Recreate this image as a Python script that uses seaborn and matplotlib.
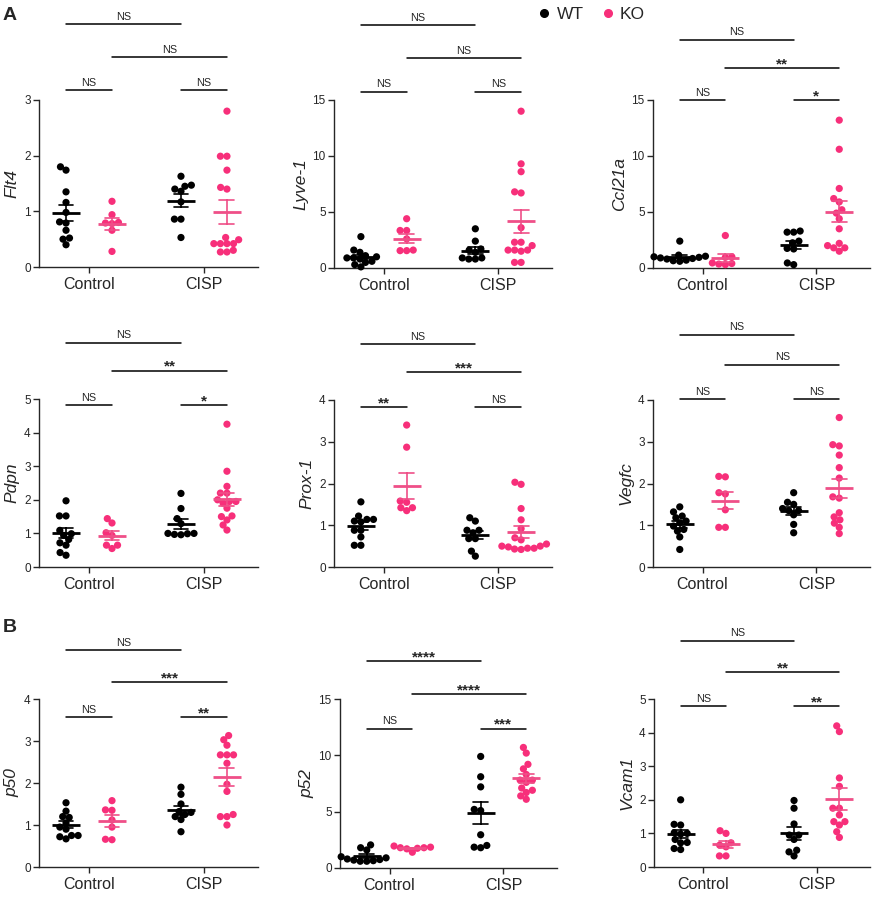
import numpy as np
import pandas as pd
import matplotlib
matplotlib.use('Agg')
import matplotlib.pyplot as plt
from matplotlib.lines import Line2D
import seaborn as sns
import warnings

warnings.filterwarnings('ignore')

# ---------------- data ----------------
groups = ['Control', 'CISP']
genotypes = ['WT', 'KO']

flt4_ctrl_wt = [1.74, 1.80, 1.35, 1.16, 0.98, 0.81, 0.79, 0.66, 0.52, 0.50, 0.40]
flt4_ctrl_ko = [1.18, 0.94, 0.80, 0.79, 0.78, 0.66, 0.28]
flt4_cisp_wt = [1.63, 1.47, 1.45, 1.40, 1.36, 1.17, 0.86, 0.86, 0.53]
flt4_cisp_ko = [2.80, 1.99, 1.99, 1.74, 1.43, 1.40, 0.53, 0.49, 0.42, 0.42, 0.42, 0.42, 0.27, 0.30, 0.27]

lyve_ctrl_wt = [2.8, 1.6, 1.4, 1.1, 1.0, 0.9, 0.9, 0.8, 0.6, 0.5, 0.3, 0.1]
lyve_ctrl_ko = [4.4, 3.35, 3.35, 2.6, 1.6, 1.55, 1.55]
lyve_cisp_wt = [3.5, 2.4, 1.7, 1.6, 1.4, 0.9, 0.8, 0.8, 0.9]
lyve_cisp_ko = [14.0, 9.3, 8.6, 6.8, 6.7, 3.6, 2.3, 2.3, 2.0, 1.6, 1.6, 1.6, 1.5, 0.5, 0.5]

ccl_ctrl_wt = [2.4, 1.15, 1.0, 1.05, 0.9, 0.85, 0.95, 0.8, 0.7, 0.6, 0.65]
ccl_ctrl_ko = [2.9, 1.0, 0.95, 0.4, 0.45, 0.35, 0.3]
ccl_cisp_wt = [3.3, 3.2, 3.2, 2.4, 2.25, 1.75, 1.7, 0.45, 0.3]
ccl_cisp_ko = [13.2, 10.6, 7.1, 6.2, 5.9, 5.2, 4.9, 4.4, 3.5, 2.2, 2.0, 1.5, 1.8, 1.8]

pdpn_ctrl_wt = [1.97, 1.52, 1.52, 1.09, 0.99, 0.94, 0.82, 0.72, 0.65, 0.43, 0.35]
pdpn_ctrl_ko = [1.44, 1.31, 1.02, 0.94, 0.65, 0.65, 0.55]
pdpn_cisp_wt = [2.19, 1.74, 1.44, 1.29, 1.0, 1.0, 0.99, 0.97, 0.96]
pdpn_cisp_ko = [4.25, 2.85, 2.4, 2.2, 2.2, 2.0, 1.95, 1.95, 1.9, 1.75, 1.52, 1.5, 1.4, 1.25, 1.1]

prox_ctrl_wt = [1.56, 1.22, 1.14, 1.14, 1.08, 1.1, 0.88, 0.88, 0.72, 0.52, 0.52]
prox_ctrl_ko = [3.4, 2.87, 1.55, 1.58, 1.35, 1.42, 1.42]
prox_cisp_wt = [1.18, 1.1, 0.88, 0.82, 0.88, 0.68, 0.68, 0.38, 0.26]
prox_cisp_ko = [2.03, 1.98, 1.4, 1.13, 0.92, 0.7, 0.65, 0.55, 0.5, 0.5, 0.48, 0.45, 0.45, 0.43, 0.42]

vegfc_ctrl_wt = [1.44, 1.32, 1.22, 1.18, 1.1, 1.06, 0.98, 0.9, 0.86, 0.72, 0.42]
vegfc_ctrl_ko = [2.17, 2.16, 1.78, 1.75, 1.37, 0.95, 0.95]
vegfc_cisp_wt = [1.78, 1.55, 1.5, 1.4, 1.35, 1.35, 1.25, 1.02, 0.82]
vegfc_cisp_ko = [3.58, 2.93, 2.9, 2.68, 2.38, 2.13, 1.65, 1.68, 1.3, 1.2, 1.13, 1.05, 0.95, 0.8]

p50_ctrl_wt = [1.53, 1.33, 1.2, 1.18, 1.05, 0.95, 0.9, 0.75, 0.75, 0.72, 0.67]
p50_ctrl_ko = [1.58, 1.36, 1.35, 1.12, 0.95, 0.66, 0.65]
p50_cisp_wt = [1.9, 1.73, 1.5, 1.32, 1.3, 1.25, 1.2, 1.13, 0.84]
p50_cisp_ko = [3.13, 3.03, 2.9, 2.67, 2.67, 2.67, 2.47, 1.97, 1.8, 1.25, 1.2, 1.2, 1.0]

p52_ctrl_wt = [2.05, 1.8, 1.6, 1.0, 0.9, 0.8, 0.7, 0.75, 0.6, 0.65, 0.6]
p52_ctrl_ko = [1.95, 1.85, 1.8, 1.8, 1.75, 1.7, 1.4]
p52_cisp_wt = [9.9, 8.1, 7.2, 5.2, 5.1, 2.95, 2.0, 1.85, 1.8]
p52_cisp_ko = [10.7, 10.2, 9.2, 8.8, 8.3, 7.8, 7.8, 7.6, 7.1, 6.9, 6.7, 6.4, 6.1]

vcam_ctrl_wt = [2.0, 1.27, 1.25, 1.02, 1.0, 0.98, 0.82, 0.73, 0.72, 0.55, 0.52]
vcam_ctrl_ko = [1.08, 1.0, 0.72, 0.65, 0.6, 0.33, 0.33]
vcam_cisp_wt = [1.98, 1.75, 1.28, 0.95, 0.95, 0.82, 0.5, 0.45, 0.33]
vcam_cisp_ko = [4.2, 4.03, 2.65, 2.4, 1.75, 1.75, 1.55, 1.35, 1.35, 1.25, 1.05, 0.88]

# significance labels: [Control WT-KO, CISP WT-KO, KO Control-CISP, WT Control-CISP]
flt4_sig = ['NS', 'NS', 'NS', 'NS']
lyve_sig = ['NS', 'NS', 'NS', 'NS']
ccl_sig = ['NS', '*', '**', 'NS']
pdpn_sig = ['NS', '*', '**', 'NS']
prox_sig = ['**', 'NS', '***', 'NS']
vegfc_sig = ['NS', 'NS', 'NS', 'NS']
p50_sig = ['NS', '**', '***', 'NS']
p52_sig = ['NS', '***', '****', '****']
vcam_sig = ['NS', '**', '**', 'NS']

point_colors = {'WT': '#000000', 'KO': '#F72F7A'}
mean_colors = {'WT': '#000000', 'KO': '#EF4F88'}


def make_df(ctrl_wt, ctrl_ko, cisp_wt, cisp_ko):
    rows = []
    for grp, gt, vals in [('Control', 'WT', ctrl_wt), ('Control', 'KO', ctrl_ko),
                          ('CISP', 'WT', cisp_wt), ('CISP', 'KO', cisp_ko)]:
        rows += [(grp, gt, v) for v in vals]
    return pd.DataFrame(rows, columns=['group', 'genotype', 'value'])


# (name, df, ymax, ystep, rect in px [left, top, width, height], bracket levels, labels)
panels = [
    ('Flt4', make_df(flt4_ctrl_wt, flt4_ctrl_ko, flt4_cisp_wt, flt4_cisp_ko), 3, 1,
     (39, 100, 219, 167), (1.06, 1.257, 1.455), flt4_sig),
    ('Lyve-1', make_df(lyve_ctrl_wt, lyve_ctrl_ko, lyve_cisp_wt, lyve_cisp_ko), 15, 5,
     (334, 100, 218, 168), (1.048, 1.25, 1.446), lyve_sig),
    ('Ccl21a', make_df(ccl_ctrl_wt, ccl_ctrl_ko, ccl_cisp_wt, ccl_cisp_ko), 15, 5,
     (653, 100, 217, 168), (1.0, 1.19, 1.36), ccl_sig),
    ('Pdpn', make_df(pdpn_ctrl_wt, pdpn_ctrl_ko, pdpn_cisp_wt, pdpn_cisp_ko), 5, 1,
     (39, 399, 219, 168), (0.964, 1.169, 1.335), pdpn_sig),
    ('Prox-1', make_df(prox_ctrl_wt, prox_ctrl_ko, prox_cisp_wt, prox_cisp_ko), 4, 1,
     (334, 400, 218, 167), (0.958, 1.167, 1.333), prox_sig),
    ('Vegfc', make_df(vegfc_ctrl_wt, vegfc_ctrl_ko, vegfc_cisp_wt, vegfc_cisp_ko), 4, 1,
     (653, 400, 217, 167), (1.004, 1.212, 1.39), vegfc_sig),
    ('p50', make_df(p50_ctrl_wt, p50_ctrl_ko, p50_cisp_wt, p50_cisp_ko), 4, 1,
     (39, 699, 219, 168), (0.893, 1.101, 1.29), p50_sig),
    ('p52', make_df(p52_ctrl_wt, p52_ctrl_ko, p52_cisp_wt, p52_cisp_ko), 15, 5,
     (340, 699, 217, 169), (0.824, 1.028, 1.222), p52_sig),
    ('Vcam1', make_df(vcam_ctrl_wt, vcam_ctrl_ko, vcam_cisp_wt, vcam_cisp_ko), 5, 1,
     (654, 699, 216, 168), (0.956, 1.158, 1.347), vcam_sig),
]

# ---------------- style ----------------
sns.set_style('ticks')
plt.rcParams['font.family'] = ['Liberation Sans', 'DejaVu Sans']
plt.rcParams['axes.linewidth'] = 1.0

W, H = 872, 900
fig = plt.figure(figsize=(W / 100, H / 100), dpi=100)

SWARM_SIZE = 4.5   # size used to lay out the swarm (lets dots overlap a bit)
DOT_SIZE = 5.2     # size the dots are finally shown with
swarms = []

for name, df, ymax, ystep, (l, t, w, h), levels, sig in panels:
    ax = fig.add_axes([l / W, 1 - (t + h) / H, w / W, h / H])

    sns.swarmplot(data=df, x='group', y='value', hue='genotype', order=groups,
                  hue_order=genotypes, dodge=True, palette=point_colors, size=SWARM_SIZE,
                  linewidth=0, legend=False, ax=ax, clip_on=False, zorder=3)
    swarms += list(ax.collections)
    sns.pointplot(data=df, x='group', y='value', hue='genotype', order=groups,
                  hue_order=genotypes, dodge=0.4, palette=mean_colors, estimator='mean',
                  errorbar='se', markers='_', markersize=20, markeredgewidth=2,
                  linestyle='none', capsize=0.13, err_kws={'linewidth': 1.2},
                  legend=False, ax=ax, zorder=4)

    ax.set_xlim(-0.435, 1.47)
    ax.set_ylim(0, ymax)
    ax.set_yticks(np.arange(0, ymax + 0.01, ystep))
    ax.set_yticklabels([f'{v:g}' for v in np.arange(0, ymax + 0.01, ystep)])
    ax.set_xlabel('')
    ax.set_ylabel(name, fontsize=12.5, style='italic', labelpad=3)
    sns.despine(ax=ax)
    ax.tick_params(axis='y', labelsize=8.5, length=4, width=1, pad=2)
    ax.tick_params(axis='x', labelsize=11.5, length=4, width=1, pad=3)

    # significance brackets
    brackets = [(-0.2, 0.2, levels[0], sig[0]), (0.8, 1.2, levels[0], sig[1]),
                (0.2, 1.2, levels[1], sig[2]), (-0.2, 0.8, levels[2], sig[3])]
    trans = ax.get_xaxis_transform()
    for x0, x1, y, lab in brackets:
        ax.plot([x0, x1], [y, y], color='black', lw=1.1, transform=trans, clip_on=False)
        if lab == 'NS':
            ax.annotate(lab, xy=((x0 + x1) / 2, y), xycoords=trans, xytext=(0, 3.2),
                        textcoords='offset points', ha='center', va='baseline',
                        fontsize=7.8, annotation_clip=False)
        else:
            ax.annotate(lab, xy=((x0 + x1) / 2, y), xycoords=trans, xytext=(0, 0.0),
                        textcoords='offset points', ha='center', va='baseline',
                        fontsize=11, fontweight='bold', annotation_clip=False)

# legend
handles = [Line2D([], [], marker='o', linestyle='none', color=point_colors[g],
                  markersize=5.5, label=g) for g in genotypes]
fig.legend(handles=handles, loc='center', bbox_to_anchor=(0.677, 1 - 14 / H), ncol=2,
           frameon=False, fontsize=12.5, handletextpad=0.2, columnspacing=0.9,
           handlelength=1.0)

# panel letters
fig.text(3 / W, 1 - 15 / H, 'A', fontsize=14, fontweight='bold', va='center', ha='left')
fig.text(3 / W, 1 - 628 / H, 'B', fontsize=14, fontweight='bold', va='center', ha='left')

# lay the swarms out once, then freeze positions and enlarge the dots
fig.canvas.draw()
for coll in swarms:
    if 'draw' in coll.__dict__:
        del coll.draw
    coll.set_sizes(coll.get_sizes() * (DOT_SIZE / SWARM_SIZE) ** 2)

fig.savefig('out.png', dpi=100)
